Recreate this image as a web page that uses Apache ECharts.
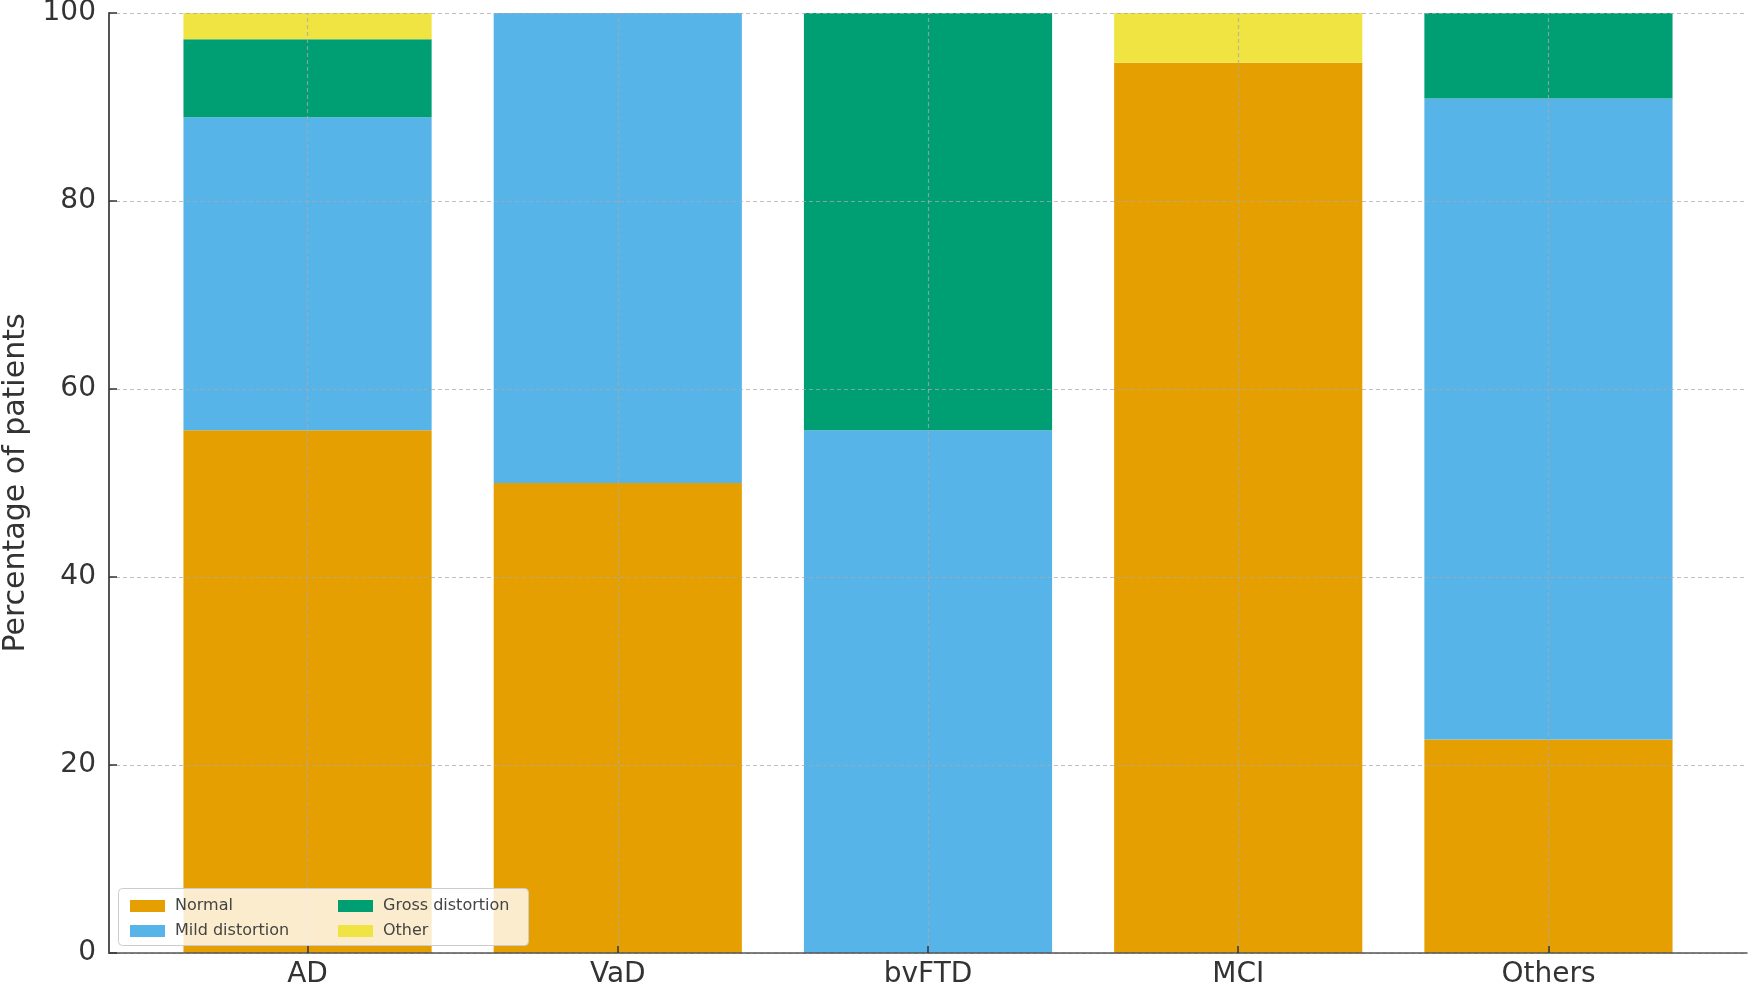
<!DOCTYPE html>
<html>
<head>
<meta charset="utf-8">
<script src="https://cdn.jsdelivr.net/npm/echarts@6/dist/echarts.min.js"></script>
<style>
html,body{margin:0;padding:0;background:#fff;}
#chart{width:1750px;height:988px;}
</style>
</head>
<body>
<div id="chart"></div>
<script>
const categories = ['AD', 'VaD', 'bvFTD', 'MCI', 'Others'];
const normal = [55.6, 50.0, 0, 94.7, 22.7];
const mild = [33.3, 50.0, 55.6, 0, 68.2];
const gross = [8.3, 0, 44.4, 0, 9.1];
const other = [2.8, 0, 0, 5.3, 0];
const yTicks = [0, 20, 40, 60, 80, 100];

const seriesNames = ['Normal', 'Mild distortion', 'Gross distortion', 'Other'];
const seriesValues = [normal, mild, gross, other];
const colors = ['#E69F00', '#56B4E9', '#009E73', '#F0E442'];
const catIdx = categories.map((c, i) => i);

const gridColor = 'rgba(170,170,170,0.75)';
const font = 'DejaVu Sans';

// Outer frame (axes) spans the whole plot; the bar grid is inset so that
// the category bands sit with matplotlib-like margins (0.64 of a band each side).
const plotLeft = 109, plotRight = 3, plotTop = 13, plotBottom = 35;
const plotW = 1750 - plotLeft - plotRight;
const xMin = -0.64, xMax = categories.length - 1 + 0.64;
const unit = plotW / (xMax - xMin);
const inset = (0.64 - 0.5) * unit;

const series = seriesNames.map((name, s) => {
  const item = {
    name: name,
    type: 'bar',
    stack: 'total',
    xAxisIndex: 1,
    yAxisIndex: 1,
    barWidth: '80%',
    itemStyle: { color: colors[s] },
    emphasis: { disabled: true },
    data: seriesValues[s]
  };
  if (s === 0) {
    item.markLine = {
      silent: true,
      symbol: 'none',
      label: { show: false },
      z: 6,
      lineStyle: { color: gridColor, type: [4, 3], width: 1.2 },
      data: categories.map(c => ({ xAxis: c }))
    };
  }
  return item;
});

const chart = echarts.init(document.getElementById('chart'), null, { renderer: 'canvas' });
chart.setOption({
  animation: false,
  backgroundColor: '#fff',
  grid: [
    { left: plotLeft, right: plotRight, top: plotTop, bottom: plotBottom, containLabel: false, outerBoundsMode: 'none' },
    { left: plotLeft + inset, right: plotRight + inset, top: plotTop, bottom: plotBottom, containLabel: false, outerBoundsMode: 'none' }
  ],
  xAxis: [{
    gridIndex: 0,
    type: 'value',
    min: xMin,
    max: xMax,
    z: 7,
    axisLine: { show: true, onZero: false, lineStyle: { color: '#555', width: 1.5 } },
    axisTick: { show: true, inside: true, length: 7, customValues: catIdx, lineStyle: { color: '#333', width: 1.5 } },
    axisLabel: {
      show: true,
      customValues: catIdx,
      formatter: v => categories[Math.round(v)] || '',
      fontFamily: font, fontSize: 28, color: '#333', margin: 8
    },
    splitLine: { show: false }
  }, {
    gridIndex: 1,
    type: 'category',
    data: categories,
    show: false
  }],
  yAxis: [{
    gridIndex: 0,
    type: 'value',
    min: 0,
    max: 100,
    interval: 20,
    z: 7,
    name: 'Percentage of patients',
    nameLocation: 'middle',
    nameGap: 70,
    nameTextStyle: { fontFamily: font, fontSize: 30, color: '#333' },
    axisLine: { show: true, onZero: false, lineStyle: { color: '#555', width: 2 } },
    axisTick: { show: true, inside: true, length: 8, lineStyle: { color: '#333', width: 1.5 } },
    axisLabel: {
      fontFamily: font, fontSize: 28, color: '#333', margin: 13,
      formatter: v => (yTicks.indexOf(v) >= 0 ? String(v) : '')
    },
    splitLine: { show: true, lineStyle: { color: gridColor, type: [4, 3], width: 1.2 } }
  }, {
    gridIndex: 1,
    type: 'value',
    min: 0,
    max: 100,
    show: false,
    splitLine: { show: false }
  }],
  graphic: [{
    type: 'rect',
    left: 118, top: 888, z: 20,
    shape: { width: 410, height: 57, r: 4 },
    style: { fill: 'rgba(255,255,255,0.8)', stroke: '#cccccc', lineWidth: 1 }
  }],
  legend: [
    {
      data: [seriesNames[0], seriesNames[1]],
      orient: 'vertical', left: 125, top: 892, z: 30,
      itemWidth: 35, itemHeight: 12, itemGap: 7, icon: 'rect',
      textStyle: { fontFamily: font, fontSize: 16, color: '#444', lineHeight: 18, padding: [0, 0, 0, 5] },
      selectedMode: false
    },
    {
      data: [seriesNames[2], seriesNames[3]],
      orient: 'vertical', left: 333, top: 892, z: 30,
      itemWidth: 35, itemHeight: 12, itemGap: 7, icon: 'rect',
      textStyle: { fontFamily: font, fontSize: 16, color: '#444', lineHeight: 18, padding: [0, 0, 0, 5] },
      selectedMode: false
    }
  ],
  series: series
});
</script>
</body>
</html>
